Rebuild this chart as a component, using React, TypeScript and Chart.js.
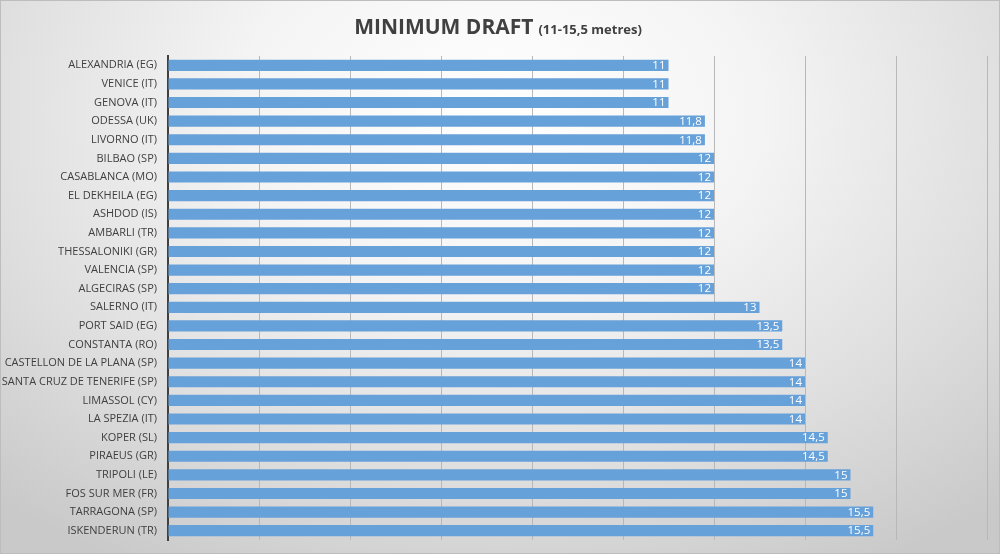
import React, { useEffect, useRef } from "react";
import { Chart, registerables } from "chart.js";

Chart.register(...registerables);

const ports: string[] = [
  "ALEXANDRIA (EG)", "VENICE (IT)", "GENOVA (IT)", "ODESSA (UK)", "LIVORNO (IT)",
  "BILBAO (SP)", "CASABLANCA (MO)", "EL DEKHEILA (EG)", "ASHDOD (IS)", "AMBARLI (TR)",
  "THESSALONIKI (GR)", "VALENCIA (SP)", "ALGECIRAS (SP)", "SALERNO (IT)", "PORT SAID (EG)",
  "CONSTANTA (RO)", "CASTELLON DE LA PLANA (SP)", "SANTA CRUZ DE TENERIFE (SP)", "LIMASSOL (CY)", "LA SPEZIA (IT)",
  "KOPER (SL)", "PIRAEUS (GR)", "TRIPOLI (LE)", "FOS SUR MER (FR)", "TARRAGONA (SP)",
  "ISKENDERUN (TR)",
];
const drafts: number[] = [
  11, 11, 11, 11.8, 11.8,
  12, 12, 12, 12, 12,
  12, 12, 12, 13, 13.5,
  13.5, 14, 14, 14, 14,
  14.5, 14.5, 15, 15, 15.5,
  15.5,
];
const titleMain = "MINIMUM DRAFT";
const titleSub = "(11-15,5 metres)";
const xMin = 0;
const xMax = 18;
const xStep = 2;

const FONT = "'Open Sans', 'Noto Sans', sans-serif";

const labelPlugin = {
  id: "valueLabels",
  afterDatasetsDraw(chart: any) {
    const ctx = chart.ctx;
    const meta = chart.getDatasetMeta(0);
    ctx.save();
    ctx.font = `11.5px ${FONT}`;
    ctx.fillStyle = "#ffffff";
    ctx.textAlign = "right";
    ctx.textBaseline = "middle";
    meta.data.forEach((bar: any, i: number) => {
      const txt = String(drafts[i]).replace(".", ",");
      ctx.fillText(txt, bar.x - 3, bar.y + 0.5);
    });
    ctx.restore();
  },
};

const titlePlugin = {
  id: "twoPartTitle",
  afterDraw(chart: any) {
    const ctx = chart.ctx;
    ctx.save();
    const f1 = `bold 21px ${FONT}`;
    const f2 = `bold 13px ${FONT}`;
    ctx.font = f1;
    const w1 = ctx.measureText(titleMain).width;
    ctx.font = f2;
    const w2 = ctx.measureText(titleSub).width;
    const gap = 5;
    const total = w1 + gap + w2;
    const x0 = 497 - total / 2;
    const y = 33;
    ctx.textBaseline = "alphabetic";
    ctx.textAlign = "left";
    ctx.fillStyle = "#404040";
    ctx.font = f1;
    ctx.fillText(titleMain, x0, y);
    ctx.font = f2;
    ctx.fillText(titleSub, x0 + w1 + gap, y);
    ctx.restore();
  },
};

export default function App() {
  const ref = useRef<HTMLCanvasElement | null>(null);
  useEffect(() => {
    document.body.style.margin = "0";
    if (!ref.current) return;
    const chart = new Chart(ref.current, {
      type: "bar",
      data: {
        labels: ports,
        datasets: [
          {
            data: drafts,
            backgroundColor: "#67a1da",
            borderWidth: 0,
            barPercentage: 0.6,
            categoryPercentage: 1,
          },
        ],
      },
      options: {
        indexAxis: "y",
        animation: false,
        responsive: false,
        maintainAspectRatio: false,
        layout: { padding: { left: 0, top: 55, right: 12, bottom: 13 } },
        plugins: {
          legend: { display: false },
          title: { display: false },
          tooltip: { enabled: false },
        },
        scales: {
          x: {
            min: xMin,
            max: xMax,
            afterFit: (scale: any) => {
              scale.height = 0;
            },
            ticks: { display: false, stepSize: xStep },
            grid: { display: true, color: "#b8b8b8", lineWidth: 1, drawTicks: false },
            border: { display: false },
          },
          y: {
            afterFit: (scale: any) => {
              scale.width = 167;
              scale.paddingTop = 0;
              scale.paddingBottom = 0;
            },
            ticks: {
              color: "#404040",
              font: { family: FONT, size: 11 },
              padding: 11,
              autoSkip: false,
            },
            grid: { display: false, drawTicks: false },
            border: { display: true, color: "#404040", width: 2 },
          },
        },
      },
      plugins: [labelPlugin, titlePlugin],
    });
    return () => chart.destroy();
  }, []);
  return (
    <div
      style={{
        width: 1000,
        height: 554,
        boxSizing: "border-box",
        border: "1px solid #bdbdbd",
        background:
          "radial-gradient(ellipse 75% 95% at 50% 20%, #ffffff 0%, #f4f4f4 35%, #dedede 70%, #c9c9c9 100%)",
        position: "relative",
      }}
    >
      <canvas ref={ref} width={998} height={552} style={{ display: "block" }} />
    </div>
  );
}
